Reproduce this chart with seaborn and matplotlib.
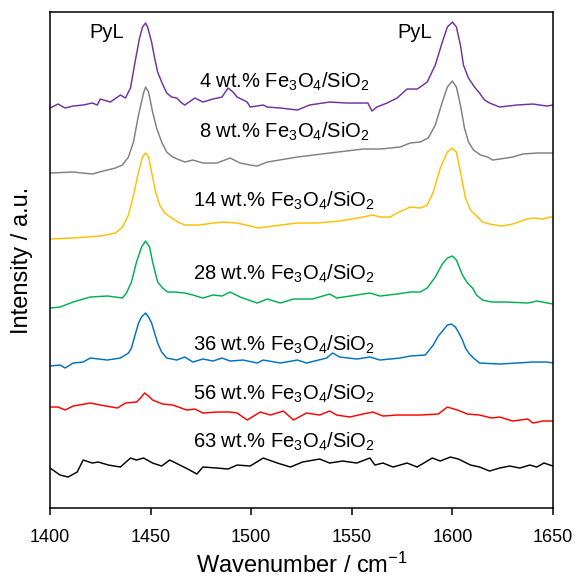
import matplotlib
matplotlib.use("Agg")
import matplotlib.pyplot as plt
import seaborn as sns
import pandas as pd

# ---- data: (wavenumber / cm-1, stacked intensity / a.u.) ----
spec_4 = [(1400, 4.00), (1404, 4.04), (1407.5, 4.00), (1411.5, 4.02), (1416.5, 4.03), (1421, 4.05),
          (1423.5, 4.03), (1425, 4.09), (1430, 4.06), (1435, 4.13), (1437.5, 4.10), (1440, 4.20),
          (1442, 4.43), (1444.5, 4.70), (1446, 4.81), (1447.5, 4.85), (1448.5, 4.81), (1450.5, 4.66),
          (1452, 4.50), (1453.5, 4.36), (1455.5, 4.26), (1458, 4.15), (1460.5, 4.11), (1463, 4.10),
          (1465.5, 4.05), (1467, 4.03), (1472, 4.10), (1476, 4.06), (1481, 4.09), (1485.5, 4.11),
          (1488.5, 4.20), (1491, 4.16), (1493, 4.11), (1498, 4.06), (1499.5, 4.01), (1506, 4.03),
          (1508, 4.01), (1514.5, 4.00), (1523, 3.98), (1529, 4.03), (1539, 4.06), (1547.5, 4.05),
          (1558, 4.05), (1560, 3.97), (1562.5, 4.01), (1567.5, 4.05), (1572.5, 4.10), (1577.5, 4.19),
          (1582.5, 4.19), (1584, 4.21), (1587.5, 4.26), (1591.5, 4.43), (1595, 4.66), (1597.5, 4.81),
          (1600, 4.86), (1602, 4.81), (1604, 4.63), (1605.5, 4.43), (1608, 4.30), (1611, 4.21),
          (1613.5, 4.15), (1616, 4.08), (1618.5, 4.05), (1623.5, 4.01), (1632, 4.03), (1640, 4.04),
          (1647, 4.02), (1650, 4.03)]

spec_8 = [(1400, 3.35), (1411.5, 3.36), (1421, 3.34), (1426.5, 3.37), (1432.5, 3.40), (1436, 3.43),
          (1439, 3.51), (1441.5, 3.66), (1444, 3.93), (1446.5, 4.15), (1447.5, 4.21), (1449, 4.16),
          (1451, 3.96), (1453, 3.80), (1455.5, 3.66), (1458, 3.56), (1461, 3.51), (1464.5, 3.48),
          (1467, 3.46), (1471, 3.48), (1476, 3.45), (1483, 3.45), (1489.5, 3.50), (1494.5, 3.45),
          (1499.5, 3.43), (1503, 3.42), (1508, 3.46), (1523, 3.51), (1539, 3.55), (1555.5, 3.59),
          (1564, 3.59), (1574, 3.61), (1579, 3.65), (1584, 3.66), (1588, 3.70), (1591.5, 3.83),
          (1595, 4.06), (1597.5, 4.21), (1600, 4.27), (1602, 4.21), (1604, 4.03), (1606, 3.80),
          (1608, 3.66), (1610.5, 3.58), (1614, 3.53), (1617.5, 3.51), (1620, 3.48), (1623.5, 3.49),
          (1630, 3.51), (1635, 3.54), (1642, 3.55), (1650, 3.55)]

spec_14 = [(1400, 2.69), (1411.5, 2.70), (1425, 2.72), (1432.5, 2.75), (1436, 2.81), (1439, 2.93),
           (1441.5, 3.13), (1444, 3.36), (1446, 3.51), (1447.5, 3.55), (1449, 3.51), (1450.5, 3.36),
           (1452.5, 3.16), (1454.5, 3.03), (1457, 2.95), (1460.5, 2.90), (1463.5, 2.86), (1467, 2.83),
           (1474.5, 2.83), (1481, 2.85), (1486, 2.86), (1493, 2.85), (1499.5, 2.82), (1503.5, 2.80),
           (1514.5, 2.83), (1523, 2.85), (1532.5, 2.85), (1544, 2.87), (1555.5, 2.91), (1560.5, 2.93),
           (1564, 2.91), (1569, 2.91), (1572.5, 2.95), (1579, 3.01), (1584, 3.00), (1587.5, 3.03),
           (1590.5, 3.16), (1594, 3.40), (1597.5, 3.56), (1600, 3.60), (1602, 3.56), (1604, 3.36),
           (1606.5, 3.10), (1609, 2.98), (1612.5, 2.91), (1615, 2.86), (1618.5, 2.84), (1624.5, 2.82),
           (1630, 2.84), (1637, 2.89), (1640, 2.90), (1645, 2.89), (1648.5, 2.91), (1650, 2.91)]

spec_28 = [(1400, 2.00), (1405, 2.01), (1411.5, 2.06), (1420, 2.11), (1428.5, 2.12), (1432.5, 2.11),
           (1436, 2.10), (1438, 2.15), (1440.5, 2.26), (1443, 2.46), (1445.5, 2.61), (1447.5, 2.67),
           (1449.5, 2.61), (1451, 2.46), (1453.5, 2.26), (1456, 2.20), (1458.5, 2.16), (1462, 2.16),
           (1467, 2.15), (1471, 2.13), (1476, 2.10), (1481, 2.13), (1485.5, 2.12), (1489.5, 2.16),
           (1494.5, 2.11), (1503, 2.05), (1508, 2.09), (1514.5, 2.05), (1521, 2.09), (1530.5, 2.09),
           (1539, 2.14), (1542.5, 2.10), (1552.5, 2.13), (1559, 2.15), (1564, 2.12), (1572.5, 2.14),
           (1579, 2.16), (1584, 2.16), (1587.5, 2.20), (1591.5, 2.31), (1595, 2.44), (1597.5, 2.50),
           (1600, 2.52), (1602, 2.48), (1605, 2.33), (1607.5, 2.25), (1610, 2.20), (1612, 2.13),
           (1615, 2.08), (1619.5, 2.06), (1627, 2.06), (1637.5, 2.05), (1642, 2.07), (1650, 2.04)]

spec_36 = [(1400, 1.42), (1405, 1.43), (1407.5, 1.40), (1411.5, 1.45), (1416.5, 1.46), (1420, 1.50),
           (1428.5, 1.48), (1435, 1.50), (1439, 1.55), (1440.5, 1.60), (1442, 1.71), (1444, 1.85),
           (1445.5, 1.91), (1447.5, 1.95), (1449, 1.91), (1450.5, 1.85), (1452, 1.75), (1453.5, 1.65),
           (1455.5, 1.56), (1458, 1.50), (1463, 1.48), (1467, 1.51), (1471, 1.46), (1476, 1.49),
           (1481, 1.47), (1485.5, 1.50), (1489.5, 1.47), (1496, 1.48), (1503, 1.45), (1506, 1.48),
           (1514.5, 1.45), (1523, 1.48), (1527.5, 1.45), (1537.5, 1.50), (1540.5, 1.55), (1544, 1.51),
           (1552.5, 1.49), (1559, 1.51), (1564, 1.48), (1574, 1.50), (1579, 1.52), (1586.5, 1.53),
           (1590.5, 1.63), (1593, 1.72), (1595.5, 1.78), (1597.5, 1.83), (1599.5, 1.84), (1601.5, 1.81),
           (1603, 1.76), (1605, 1.68), (1606.5, 1.60), (1608.5, 1.54), (1610.5, 1.50), (1613.5, 1.45),
           (1623.5, 1.44), (1632, 1.45), (1640, 1.46), (1647, 1.46), (1650, 1.45)]

spec_56 = [(1400, 1.01), (1404, 1.01), (1407.5, 0.98), (1411.5, 1.02), (1420, 1.05), (1425, 1.03),
           (1433.5, 1.00), (1437.5, 1.05), (1443, 1.06), (1445, 1.10), (1447, 1.15), (1449, 1.12),
           (1451, 1.08), (1456, 1.04), (1461, 1.03), (1468, 0.98), (1472, 0.99), (1476, 0.95),
           (1483, 0.96), (1489.5, 0.96), (1493, 0.95), (1498, 0.88), (1504.5, 0.96), (1509.5, 0.93),
           (1516, 0.97), (1521, 0.88), (1527.5, 0.95), (1534, 0.93), (1539, 0.97), (1542.5, 0.93),
           (1549, 0.91), (1555.5, 0.94), (1560.5, 0.96), (1565.5, 0.92), (1572.5, 0.93), (1575.5, 0.93),
           (1584, 0.93), (1593, 0.94), (1597.5, 1.01), (1602.5, 0.98), (1607.5, 0.94), (1613.5, 0.93),
           (1619.5, 0.90), (1623.5, 0.91), (1630, 0.87), (1637.5, 0.89), (1640, 0.85), (1645, 0.87),
           (1650, 0.87)]

spec_63 = [(1400, 0.40), (1405, 0.33), (1409, 0.31), (1413.5, 0.36), (1416.5, 0.48), (1421, 0.45),
           (1424, 0.46), (1429, 0.43), (1435, 0.41), (1440, 0.50), (1443, 0.48), (1446.5, 0.50),
           (1451, 0.45), (1455.5, 0.42), (1459.5, 0.48), (1464.5, 0.43), (1468.5, 0.39), (1473, 0.34),
           (1476, 0.41), (1483, 0.40), (1488.5, 0.39), (1493, 0.43), (1499.5, 0.42), (1506, 0.50),
           (1513, 0.45), (1519.5, 0.41), (1525.5, 0.46), (1534, 0.49), (1539, 0.45), (1545.5, 0.47),
           (1552.5, 0.45), (1559, 0.50), (1561.5, 0.43), (1565.5, 0.45), (1570.5, 0.41), (1577.5, 0.45),
           (1582.5, 0.41), (1590, 0.50), (1594, 0.47), (1599, 0.51), (1603, 0.49), (1609, 0.43),
           (1613.5, 0.41), (1618.5, 0.37), (1623.5, 0.40), (1628.5, 0.42), (1633.5, 0.40),
           (1638.5, 0.43), (1642, 0.41), (1645.5, 0.45), (1650, 0.42)]

labels = ["4 wt.% Fe$_3$O$_4$/SiO$_2$", "8 wt.% Fe$_3$O$_4$/SiO$_2$", "14 wt.% Fe$_3$O$_4$/SiO$_2$",
          "28 wt.% Fe$_3$O$_4$/SiO$_2$", "36 wt.% Fe$_3$O$_4$/SiO$_2$", "56 wt.% Fe$_3$O$_4$/SiO$_2$",
          "63 wt.% Fe$_3$O$_4$/SiO$_2$"]
label_y = [4.26, 3.76, 3.07, 2.34, 1.63, 1.14, 0.66]
peak_label = "PyL"
peak_label_x = [1428.3, 1581.4]
peak_label_y = 4.76
x_ticks = [1400, 1450, 1500, 1550, 1600, 1650]

colors = ["#7030A0", "#808080", "#FFC000", "#00B050", "#0070C0", "#FF0000", "#000000"]
series = [spec_4, spec_8, spec_14, spec_28, spec_36, spec_56, spec_63]

sns.set_theme(style="white")
plt.rcParams["font.family"] = ["Liberation Sans", "DejaVu Sans"]
plt.rcParams["mathtext.default"] = "regular"

fig, ax = plt.subplots(figsize=(5.8, 5.81), dpi=100)
fig.subplots_adjust(left=0.0862, right=0.9534, bottom=0.1256, top=0.9793)

for spec, c in zip(series, colors):
    df = pd.DataFrame(spec, columns=["wn", "I"])
    sns.lineplot(data=df, x="wn", y="I", color=c, lw=1.05, sort=False,
                 estimator=None, ax=ax, solid_joinstyle="round")

for lab, ly in zip(labels, label_y):
    ax.text(1516.5, ly, lab, ha="center", va="center", fontsize=14.5, color="black")
for px in peak_label_x:
    ax.text(px, peak_label_y, peak_label, ha="center", va="center", fontsize=14.5, color="black")

ax.set_xlim(1400, 1650)
ax.set_ylim(0, 4.96)
ax.set_xticks(x_ticks)
ax.set_yticks([])
ax.tick_params(axis="x", direction="out", length=5, width=1.1, labelsize=13, pad=10,
               bottom=True, colors="black")
for sp in ax.spines.values():
    sp.set_color("black")
    sp.set_linewidth(1.1)
ax.set_xlabel("Wavenumber / cm$^{-1}$", fontsize=17, labelpad=5, color="black")
ax.set_ylabel("Intensity / a.u.", fontsize=17, labelpad=12, color="black")

fig.savefig("out.png", dpi=100)
